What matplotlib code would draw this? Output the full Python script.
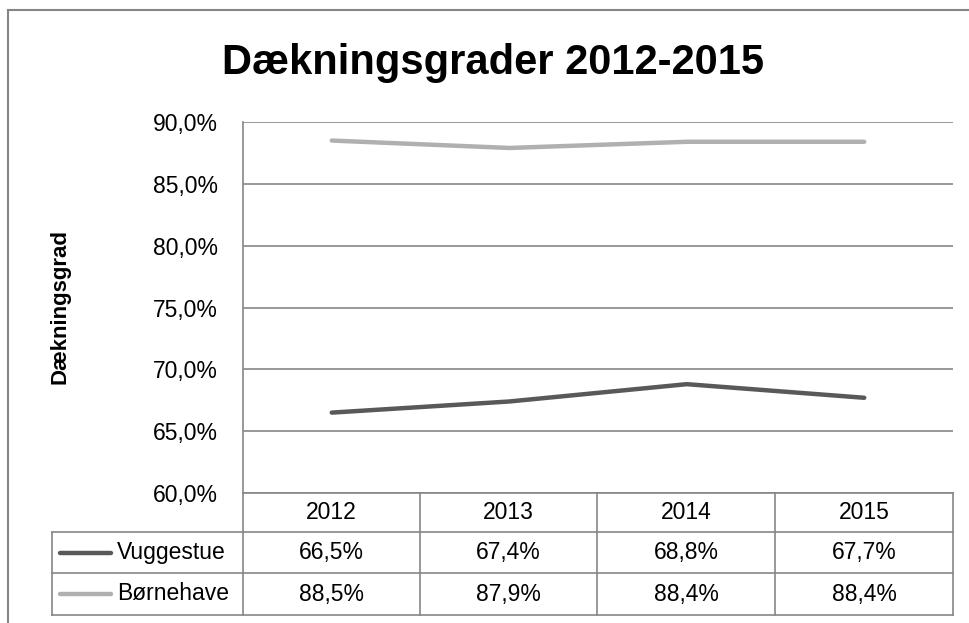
import matplotlib

matplotlib.use("Agg", force=True)
import matplotlib.pyplot as plt
from matplotlib.lines import Line2D

# data
years = ["2012", "2013", "2014", "2015"]
vuggestue = [66.5, 67.4, 68.8, 67.7]
boernehave = [88.5, 87.9, 88.4, 88.4]
series_names = ["Vuggestue", "Børnehave"]
series_colors = ["#595959", "#b0b0b0"]
yticks = [60, 65, 70, 75, 80, 85, 90]

GRID = "#868686"
plt.rcParams["font.family"] = ["Liberation Sans", "DejaVu Sans"]

W, H = 970, 623
fig = plt.figure(figsize=(W / 100, H / 100), dpi=100)


def fx(px):
    return px / W


def fy(py):
    return 1 - py / H


# outer chart border (cut off at right and bottom)
fig.add_artist(Line2D([fx(8), 1.0], [fy(10), fy(10)], color=GRID, lw=1.5, transform=fig.transFigure))
fig.add_artist(Line2D([fx(8), fx(8)], [fy(10), 0.0], color=GRID, lw=1.5, transform=fig.transFigure))

left, right, top, bottom = 243, 953, 122, 493
ax = fig.add_axes([fx(left), fy(bottom), fx(right - left), (bottom - top) / H])

x = list(range(len(years)))
for vals, color in zip([vuggestue, boernehave], series_colors):
    ax.plot(x, vals, color=color, lw=3.2, solid_capstyle="round", solid_joinstyle="round", zorder=3)

ax.set_xlim(-0.5, len(years) - 0.5)
ax.set_ylim(60, 90)
ax.set_yticks(yticks)
ax.set_yticklabels([f"{v:.1f}%".replace(".", ",") for v in yticks], fontsize=16.5)
ax.tick_params(axis="y", length=0, pad=18)
ax.set_xticks([])
ax.grid(axis="y", color=GRID, lw=1.2)
ax.set_axisbelow(True)
for side in ["top", "right", "bottom"]:
    ax.spines[side].set_visible(False)
ax.spines["left"].set_color(GRID)
ax.spines["left"].set_linewidth(1.2)

fig.text(fx(493), fy(63), "Dækningsgrader 2012-2015", ha="center", va="center",
         fontsize=30, fontweight="bold")
fig.text(fx(60), fy(307), "Dækningsgrad", ha="center", va="center", rotation=90,
         fontsize=16, fontweight="bold")

# data table below the plot
rows_px = [493, 532, 573, 615]
cols_px = [243, 420, 597, 775, 953]
label_left = 52
ft = fig.transFigure
TFS = 16.5


def hline(x0, x1, y):
    fig.add_artist(Line2D([fx(x0), fx(x1)], [fy(y), fy(y)], color=GRID, lw=1.2, transform=ft))


def vline(xp, y0, y1):
    fig.add_artist(Line2D([fx(xp), fx(xp)], [fy(y0), fy(y1)], color=GRID, lw=1.2, transform=ft))


hline(cols_px[0], cols_px[-1], rows_px[0])
for yp in rows_px[1:]:
    hline(label_left, cols_px[-1], yp)
for xp in cols_px:
    vline(xp, rows_px[0], rows_px[-1])
vline(label_left, rows_px[1], rows_px[-1])

for i, yr in enumerate(years):
    cx = (cols_px[i] + cols_px[i + 1]) / 2
    fig.text(fx(cx), fy((rows_px[0] + rows_px[1]) / 2), yr, ha="center", va="center", fontsize=TFS)

for r, (name, color, vals) in enumerate(zip(series_names, series_colors, [vuggestue, boernehave])):
    cy = (rows_px[r + 1] + rows_px[r + 2]) / 2
    fig.add_artist(Line2D([fx(60), fx(111)], [fy(cy), fy(cy)], color=color, lw=3.2,
                          solid_capstyle="round", transform=ft))
    fig.text(fx(117), fy(cy), name, ha="left", va="center", fontsize=TFS)
    for i, v in enumerate(vals):
        cx = (cols_px[i] + cols_px[i + 1]) / 2
        fig.text(fx(cx), fy(cy), f"{v:.1f}%".replace(".", ","), ha="center", va="center", fontsize=TFS)

fig.savefig("out.png", dpi=100)
